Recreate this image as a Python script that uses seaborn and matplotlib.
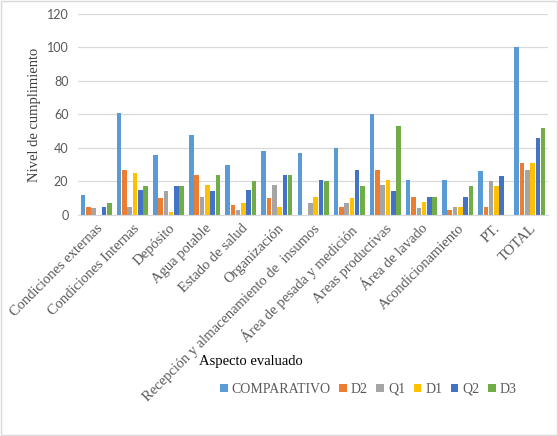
import pandas as pd
import numpy as np
import matplotlib
matplotlib.use('Agg')
import matplotlib.pyplot as plt
import seaborn as sns

# Values
categories = ['Condiciones externas', 'Condiciones Internas', 'Depósito', 'Agua potable',
              'Estado de salud', 'Organización', 'Recepción y almacenamiento de  insumos',
              'Área de pesada y medición', 'Areas productivas', 'Área de lavado',
              'Acondicionamiento', 'PT.', 'TOTAL']
series = ['COMPARATIVO', 'D2', 'Q1', 'D1', 'Q2', 'D3']
comparativo = [12, 61, 36, 48, 30, 38, 37, 40, 60, 21, 21, 26, 100]
d2 = [5, 27, 10, 24, 6, 10, 0, 5, 27, 11, 3, 5, 31]
q1 = [4, 5, 14, 11, 3, 18, 7, 7, 18, 4, 5, 20, 27]
d1 = [0, 25, 2, 18, 7, 5, 11, 10, 21, 8, 5, 17, 31]
q2 = [5, 15, 17, 14, 15, 24, 21, 27, 14, 11, 11, 23, 46]
d3 = [7, 17, 17, 24, 20, 24, 20, 17, 53, 11, 17, 0, 52]
colors = ['#5B9BD5', '#ED7D31', '#A5A5A5', '#FFC000', '#4472C4', '#70AD47']

df = pd.DataFrame({'Aspecto': categories, 'COMPARATIVO': comparativo, 'D2': d2,
                   'Q1': q1, 'D1': d1, 'Q2': q2, 'D3': d3})
long = df.melt(id_vars='Aspecto', var_name='Serie', value_name='Nivel')

sns.set_style('white')
plt.rcParams['font.family'] = ['Liberation Serif', 'DejaVu Serif']

fig = plt.figure(figsize=(5.58, 4.36), dpi=100)
ax = fig.add_axes([0.14, 0.507, 0.842, 0.461])

sns.barplot(data=long, x='Aspecto', y='Nivel', hue='Serie', hue_order=series,
            order=categories, palette=colors, width=0.88, gap=0.14,
            saturation=1, linewidth=0, ax=ax, legend=True)

ax.set_ylim(0, 120)
ax.set_yticks(np.arange(0, 121, 20))
ax.yaxis.grid(True, color='#D9D9D9', lw=0.9)
ax.set_axisbelow(True)
for s in ['top', 'right', 'left']:
    ax.spines[s].set_visible(False)
ax.spines['bottom'].set_color('#D9D9D9')
ax.tick_params(axis='both', length=0, colors='#595959')
ax.tick_params(axis='y', pad=7)
for lab in ax.get_yticklabels():
    lab.set_family('Lato')
    lab.set_fontsize(9)
ax.set_xticks(range(len(categories)))
ax.set_xticklabels(categories, rotation=45, ha='right', rotation_mode='anchor',
                   fontsize=10.5, color='#595959')
ax.tick_params(axis='x', pad=5)
ax.set_ylabel('Nivel de cumplimiento', fontsize=10.5, color='#404040', labelpad=4)
ax.set_xlabel('')
ax.set_xlim(-0.5, len(categories) - 0.5)

fig.text(0.45, 0.17, 'Aspecto evaluado', fontsize=10.5, ha='center', va='center',
         color='black')

handles, labels = ax.get_legend_handles_labels()
ax.get_legend().remove()
fig.legend(handles, labels, loc='center', bbox_to_anchor=(0.66, 0.107), ncol=6,
           frameon=False, prop={'family': 'Liberation Serif', 'size': 10},
           handlelength=0.55, handleheight=0.55, handletextpad=0.3,
           columnspacing=0.6, labelcolor='#595959')

fig.patches.append(plt.Rectangle((0.002, 0.002), 0.996, 0.996, transform=fig.transFigure,
                                 fill=False, edgecolor='#D9D9D9', lw=1))

fig.savefig('out.png', dpi=100)
